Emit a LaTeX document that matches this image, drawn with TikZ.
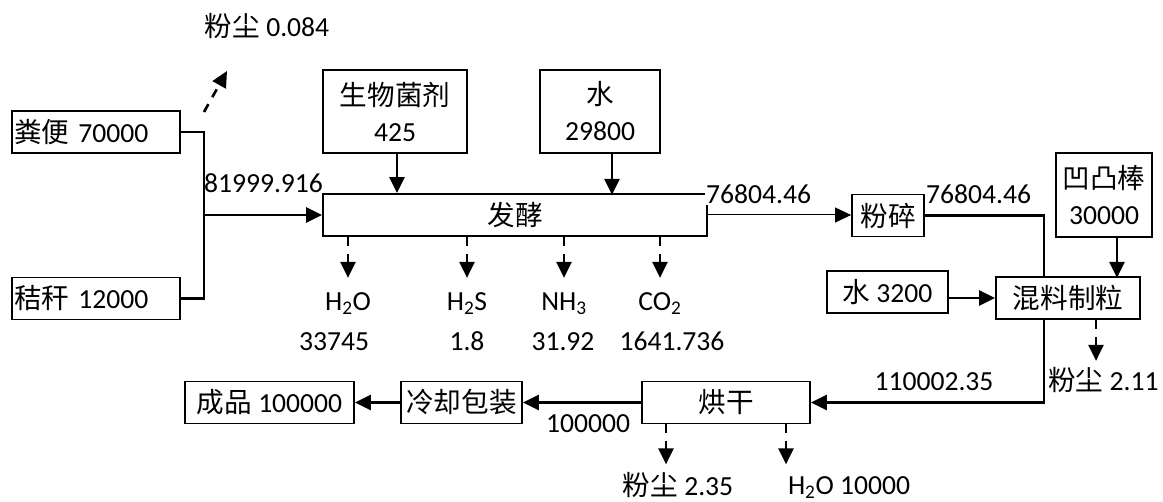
\documentclass[tikz,border=0pt]{standalone}
\usepackage{fontspec}
\setmainfont{Carlito}
\newfontfamily\cjk{Noto Sans CJK SC}
\usetikzlibrary{arrows.meta,positioning}

\begin{document}
\begin{tikzpicture}[x=1pt,y=-1pt,>={Triangle[length=16pt,width=15pt]},
    font=\fontsize{27.6}{36}\selectfont,
    box/.style={draw,line width=1.8pt,inner sep=1pt,minimum height=42pt,align=center},
    flow/.style={->,line width=2.6pt},
    loss/.style={->,line width=2.6pt,dash pattern=on 9pt off 8pt},
    lbl/.style={inner sep=1pt,anchor=base}]
  \useasboundingbox (0,0) rectangle (1163,502);
  % raw materials
  \node[box,minimum width=168pt,text width=164pt,align=left] (fenbian) at (96,132) {{\cjk 粪便} 70000};
  \node[box,minimum width=168pt,text width=164pt,align=left] (jiegan) at (96,298.5) {{\cjk 秸秆} 12000};
  \coordinate (hub) at (204,215);
  \draw[line width=2.6pt] (fenbian.east) -| (hub) |- (jiegan.east);
  \draw[loss] ([yshift=20pt]fenbian.east -| hub) -- ++(23,-41) coordinate (d0);
  \node[lbl] (dust0) at (267,37) {{\cjk 粉尘} 0.084};
  % fermentation
  \node[box,minimum width=144pt,minimum height=83pt] (junji) at (395,111.5) {{\cjk 生物菌剂}\\425};
  \node[box,minimum width=120pt,minimum height=83pt] (shui) at (600,111.5) {{\cjk 水}\\29800};
  \node[box,minimum width=384pt] (fajiao) at (515,215) {{\cjk 发酵}};
  \draw[flow] (hub) -- (fajiao.west);
  \node[lbl] (m0) at (263.5,193) {81999.916};
  \draw[flow] ([xshift=2pt]junji.south) -- ([xshift=2pt]junji.south |- fajiao.north);
  \draw[flow] ([xshift=12pt]shui.south) -- ++(0,41);
  \foreach \dx [count=\i] in {-167,-48,49,145}
    \draw[loss] ([xshift=\dx pt]fajiao.south) -- ++(0,41) coordinate (g\i);
  \node[lbl] (gas1) at (348,311) {H\textsubscript{2}O};
  \node[lbl] (gas2) at (467,311) {H\textsubscript{2}S};
  \node[lbl] (gas3) at (564,311) {NH\textsubscript{3}};
  \node[lbl] (gas4) at (660,311) {CO\textsubscript{2}};
  \node[lbl] (amt1) at (334,351) {33745};
  \node[lbl] (amt2) at (467,351) {1.8};
  \node[lbl] (amt3) at (563,351) {31.92};
  \node[lbl] (amt4) at (672,351) {1641.736};
  % crushing and granulation
  \node[box,minimum width=72pt] (fensui) at (888,215.5) {{\cjk 粉碎}};
  \draw[->,line width=1pt] (fajiao.east) -- (fajiao.east -| fensui.west);
  \node[lbl,anchor=base west,fill=white] (m1) at (705,204) {76804.46};
  \node[box,minimum width=96pt,minimum height=84pt] (aotu) at (1104,195) {{\cjk 凹凸棒}\\30000};
  \node[box,minimum width=121pt] (shui2) at (887.5,292) {{\cjk 水} 3200};
  \node[box,minimum width=144pt] (zhili) at (1068,298) {{\cjk 混料制粒}};
  \draw[line width=2.6pt] (fensui.east) -| ([xshift=-24pt]zhili.north);
  \node[lbl,anchor=base west] (m2) at (925,204) {76804.46};
  \draw[flow] ([xshift=13pt]aotu.south) -- ++(0,40);
  \draw[flow] (shui2.east |- zhili.west) -- (zhili.west);
  \draw[loss] ([xshift=28pt]zhili.south) -- ++(0,41);
  \node[lbl,anchor=base west] (dust1) at (1047,391) {{\cjk 粉尘} 2.11};
  % drying and packing
  \node[box,minimum width=168pt] (hongan) at (726,402.5) {{\cjk 烘干}};
  \node[box,minimum width=121pt] (lengque) at (461.5,402.5) {{\cjk 冷却包装}};
  \node[box,minimum width=169pt] (chengpin) at (269.5,402.5) {{\cjk 成品} 100000};
  \draw[flow] ([xshift=-24pt]zhili.south) |- (hongan.east);
  \node[lbl] (m3) at (934,391) {110002.35};
  \draw[flow] (hongan.west) -- (lengque.east);
  \node[lbl] (m4) at (588,433) {100000};
  \draw[flow] (lengque.west) -- (chengpin.east);
  \draw[loss] ([xshift=-60pt]hongan.south) -- ++(0,40);
  \draw[loss] ([xshift=60pt]hongan.south) -- ++(0,40);
  \node[lbl,inner sep=0pt] (dust2) at (678,496) {{\cjk 粉尘} 2.35};
  \node[lbl,inner sep=0pt] (water2) at (849,495) {H\textsubscript{2}O 10000};
\end{tikzpicture}
\end{document}
